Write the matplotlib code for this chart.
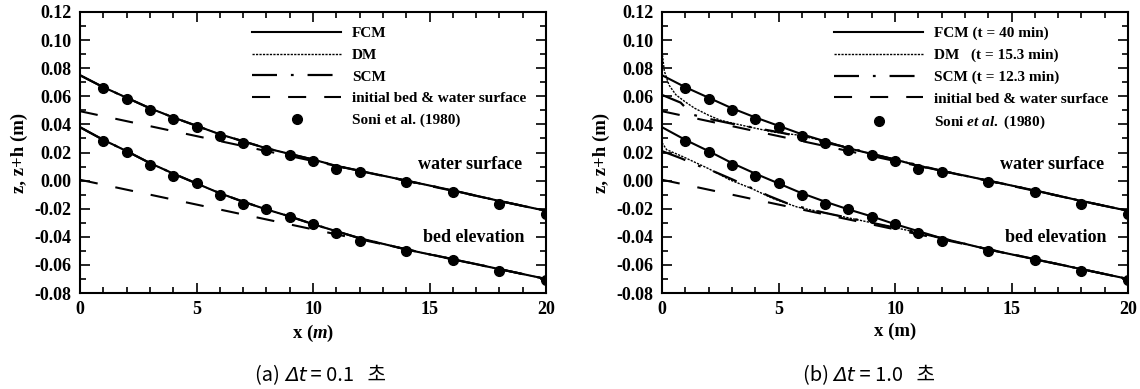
import matplotlib
matplotlib.use('Agg')
import matplotlib.pyplot as plt
from matplotlib.lines import Line2D
from matplotlib.ticker import MultipleLocator, FormatStrFormatter

plt.rcParams['font.family'] = ['Liberation Serif', 'Noto Sans CJK KR']
plt.rcParams['font.weight'] = 'bold'
plt.rcParams['axes.labelweight'] = 'bold'
plt.rcParams['axes.unicode_minus'] = False
plt.rcParams['lines.scale_dashes'] = False
plt.rcParams['mathtext.fontset'] = 'custom'
plt.rcParams['mathtext.rm'] = 'Liberation Serif:bold'
plt.rcParams['mathtext.it'] = 'Liberation Serif:italic:bold'

# measured data, Soni et al. (1980)
x_soni = [1, 2, 3, 4, 5, 6, 7, 8, 9, 10, 11, 12, 14, 16, 18, 20]
ws_soni = [0.0658, 0.058, 0.0505, 0.0439, 0.0385, 0.032, 0.0269, 0.022, 0.0184, 0.014,
           0.0086, 0.0062, -0.0011, -0.0084, -0.017, -0.0235]
bed_soni = [0.028, 0.0203, 0.0111, 0.0033, -0.0018, -0.0103, -0.0164, -0.020, -0.0261, -0.031,
            -0.0375, -0.0429, -0.050, -0.0567, -0.0644, -0.071]

# FCM (t = 40 min)
x_fcm = [0, 1, 2, 3, 4, 5, 6, 7, 8, 9, 10, 11, 12, 14, 16, 18, 20]
ws_fcm = [0.075, 0.0665, 0.059, 0.0515, 0.045, 0.039, 0.033, 0.028, 0.023, 0.019, 0.015,
          0.0105, 0.007, 0.000, -0.007, -0.0145, -0.0215]
bed_fcm = [0.038, 0.029, 0.021, 0.0125, 0.005, -0.002, -0.009, -0.015, -0.0205, -0.0255, -0.031,
           -0.036, -0.041, -0.049, -0.056, -0.063, -0.070]

# initial bed & water surface
x_init = [0, 20]
ws_init = [0.0494, -0.0215]
bed_init = [0.0006, -0.0700]

# (b) DM (t = 15.3 min)
x_dm_ws = [0, 0.1, 0.3, 0.6, 1.0, 1.4, 2.0, 2.5, 3.0, 3.8, 4.8, 5.8, 7.0, 8.0, 9, 10, 12, 14, 16, 18, 20]
ws_dm = [0.092, 0.078, 0.068, 0.061, 0.056, 0.0515, 0.0465, 0.043, 0.041, 0.038, 0.0345, 0.0325,
         0.028, 0.023, 0.019, 0.015, 0.007, 0.000, -0.007, -0.0145, -0.0215]
x_dm_bed = [0, 0.2, 0.9, 2.0, 2.9, 3.8, 4.8, 5.8, 7, 8, 9, 10, 11, 12, 14, 16, 18, 20]
bed_dm = [0.027, 0.022, 0.017, 0.0085, 0.0006, -0.0053, -0.013, -0.0188, -0.023, -0.0265, -0.030,
          -0.0335, -0.037, -0.041, -0.049, -0.056, -0.063, -0.070]

# (b) SCM (t = 12.3 min)
x_scm_ws = [0, 0.8, 1.3, 2, 3, 4, 5, 6, 7, 8, 9, 10, 12, 14, 16, 18, 20]
ws_scm = [0.061, 0.0555, 0.047, 0.044, 0.0405, 0.0375, 0.0345, 0.031, 0.027, 0.0235, 0.019,
          0.015, 0.007, 0.000, -0.007, -0.0145, -0.0215]
x_scm_bed = [0, 0.8, 1.5, 2.3, 3.0, 3.8, 4.6, 5.5, 7, 8, 9, 10, 11, 12, 14, 16, 18, 20]
bed_scm = [0.021, 0.016, 0.011, 0.006, 0.001, -0.005, -0.011, -0.017, -0.023, -0.0265, -0.030,
           -0.0335, -0.037, -0.041, -0.049, -0.056, -0.063, -0.070]

labels_a = ['FCM', 'DM', 'SCM', 'initial bed & water surface', 'Soni et al. (1980)']
labels_b = ['FCM (t = 40 min)', 'DM   (t = 15.3 min)', 'SCM (t = 12.3 min)',
            'initial bed & water surface', r'Soni $\mathit{et\ al.\ (1980)}$']
captions = [('(a) ', 'Δt', ' = 0.1   초'), ('(b) ', 'Δt', ' = 1.0   초')]

sty_fcm = dict(color='black', lw=1.5, linestyle='-')
sty_dm = dict(color='black', lw=1.0, dashes=(1.6, 0.9))
sty_scm = dict(color='black', lw=1.6, dashes=(18, 10, 2, 10))
sty_init = dict(color='black', lw=1.5, dashes=(13, 13))
sty_soni = dict(color='black', linestyle='none', marker='o', markersize=7)


def setup(ax, xlabel):
    ax.set_xlim(0, 20)
    ax.set_ylim(-0.08, 0.12)
    ax.xaxis.set_major_locator(MultipleLocator(5))
    ax.xaxis.set_minor_locator(MultipleLocator(1))
    ax.yaxis.set_major_locator(MultipleLocator(0.02))
    ax.yaxis.set_minor_locator(MultipleLocator(0.01))
    ax.yaxis.set_major_formatter(FormatStrFormatter('%.2f'))
    ax.tick_params(which='both', direction='in', top=True, right=True, labelsize=13, width=1.2)
    ax.tick_params(which='major', length=7, pad=6)
    ax.tick_params(which='minor', length=4)
    for s in ax.spines.values():
        s.set_linewidth(1.5)
    ax.set_xlabel(xlabel, fontsize=13.5, labelpad=3)
    ax.set_ylabel('z, z+h (m)', fontsize=13.5, labelpad=5)
    ax.text(14.5, 0.0113, 'water surface', fontsize=13, va='center')
    ax.text(14.7, -0.0408, 'bed elevation', fontsize=13, va='center')


def legend(ax, labels):
    handles = [Line2D([], [], **sty_fcm), Line2D([], [], **sty_dm), Line2D([], [], **sty_scm),
               Line2D([], [], **sty_init), Line2D([], [], **sty_soni)]
    ax.legend(handles, labels, loc='upper left', bbox_to_anchor=(0.37, 0.948), frameon=False,
              fontsize=11, handlelength=5.8, handletextpad=0.7, labelspacing=0.52,
              borderpad=0, borderaxespad=0, numpoints=1)


fig = plt.figure(figsize=(11.4, 3.89), dpi=100)
ax_a = fig.add_axes([80 / 1140, 1 - 293 / 389, 466 / 1140, 281 / 389])
ax_b = fig.add_axes([662 / 1140, 1 - 293 / 389, 466 / 1140, 281 / 389])

for ax in (ax_a, ax_b):
    ax.plot(x_init, ws_init, **sty_init)
    ax.plot(x_init, bed_init, **sty_init)

# (a) dt = 0.1 s: DM and SCM lie on top of FCM
ax_a.plot(x_fcm, ws_fcm, **sty_dm)
ax_a.plot(x_fcm, bed_fcm, **sty_dm)
ax_a.plot(x_fcm, ws_fcm, **sty_scm)
ax_a.plot(x_fcm, bed_fcm, **sty_scm)

ax_b.plot(x_dm_ws, ws_dm, **sty_dm)
ax_b.plot(x_dm_bed, bed_dm, **sty_dm)
ax_b.plot(x_scm_ws, ws_scm, **sty_scm)
ax_b.plot(x_scm_bed, bed_scm, **sty_scm)

for ax in (ax_a, ax_b):
    ax.plot(x_fcm, ws_fcm, **sty_fcm)
    ax.plot(x_fcm, bed_fcm, **sty_fcm)
    ax.plot(x_soni, ws_soni, **sty_soni)
    ax.plot(x_soni, bed_soni, **sty_soni)

setup(ax_a, r'x ($\mathit{m}$)')
setup(ax_b, 'x (m)')
legend(ax_a, labels_a)
legend(ax_b, labels_b)

# captions: pieces on one baseline so only "Δt" is italic
cap_font = dict(fontsize=14.5, fontweight='normal', va='baseline',
                family=['Noto Sans CJK KR', 'DejaVu Sans'])
cap_groups = []
for xc, (p1, p2, p3) in zip([321 / 1140, 869 / 1140], captions):
    t1 = fig.text(xc, 0.02, p1, **cap_font)
    t2 = fig.text(xc, 0.02, p2, **dict(cap_font, family='DejaVu Sans', fontstyle='oblique'))
    t3 = fig.text(xc, 0.02, p3, **cap_font)
    cap_groups.append((xc, [t1, t2, t3]))

fig.canvas.draw()
r = fig.canvas.get_renderer()
W = fig.bbox.width
for xc, parts in cap_groups:
    widths = [t.get_window_extent(r).width for t in parts]
    x = xc - sum(widths) / 2 / W
    for t, w in zip(parts, widths):
        t.set_x(x)
        x += w / W

fig.savefig('out.png', dpi=100)
